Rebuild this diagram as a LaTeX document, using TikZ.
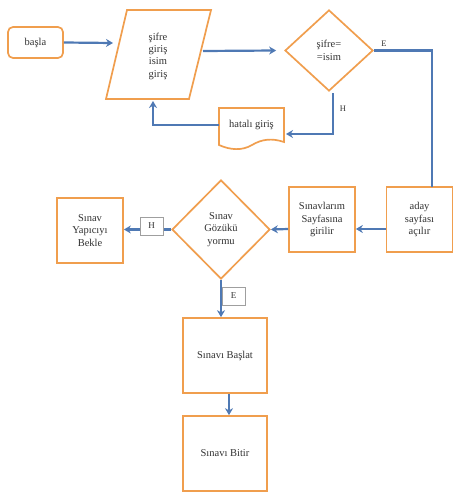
\documentclass[tikz,border=0pt]{standalone}
\usepackage{fontspec}
\setmainfont{Liberation Serif}
\usetikzlibrary{shapes.geometric,arrows.meta}
\definecolor{orng}{RGB}{240,158,78}
\definecolor{blu}{RGB}{79,121,180}
\definecolor{txt}{RGB}{50,50,50}
\begin{document}
\begin{tikzpicture}[x=1pt,y=-1pt,
  shp/.style={draw=orng,line width=1.7pt,fill=white},
  box/.style={shp,align=center,text=txt,font=\fontsize{10.5}{12.3}\selectfont,inner sep=0pt},
  dia/.style={box,diamond},
  conn/.style={draw=blu,line width=2.2pt,-{Stealth[length=7pt,width=8pt]}},
  plain/.style={draw=blu,line width=2.2pt},
  lbl/.style={text=txt,font=\fontsize{8.5}{10}\selectfont,inner sep=0pt},
  lblbox/.style={draw=gray!75,fill=white,line width=0.8pt,minimum width=23pt,minimum height=18pt,inner sep=0pt,text=txt,font=\fontsize{9}{10}\selectfont}]
\useasboundingbox (0,0) rectangle (462,495);
% top row
\node[box,rounded corners=5pt,minimum width=55pt,minimum height=31pt] (basla) at (35.5,42.5) {başla};
\draw[shp] (127,10) -- (211,10) -- (189,99) -- (106,99) -- cycle;
\node[box,draw=none,fill=none] (sifre) at (158,56) {şifre\\giriş\\isim\\giriş};
\coordinate (pin) at (113,43);
\coordinate (pout) at (203,51);
\coordinate (pbot) at (153,101);
\node[dia,minimum width=88pt,minimum height=81pt] (d1) at (329,50.5) {şifre=\\=isim};
\draw[shp] (219,108) -- (284,108) -- (284,142)
  .. controls (272,138) and (262,139) .. (252,145)
  .. controls (242,151) and (230,150) .. (219,145) -- cycle;
\node[box,draw=none,fill=none] (hata) at (251.5,125) {hatalı giriş};
\coordinate (hw) at (219,125);
\coordinate (he) at (286,134);
\coordinate (hs) at (333,93);
% second row
\node[box,minimum width=66pt,minimum height=65pt] (yap) at (90,230.5) {Sınav\\Yapıcıyı\\Bekle};
\node[dia,minimum width=98pt,minimum height=99pt] (d2) at (221,229.5) {Sınav\\Gözükü\\yormu};
\node[box,minimum width=66pt,minimum height=65pt] (sin) at (322,219.5) {Sınavlarım\\Sayfasına\\girilir};
\node[box,minimum width=66pt,minimum height=65pt] (aday) at (419.5,219.5) {aday\\sayfası\\açılır};
\coordinate (c1) at (432,187);
\node[box,minimum width=84pt,minimum height=75pt] (baslat) at (225,355.5) {Sınavı Başlat};
\node[box,minimum width=84pt,minimum height=75pt] (bitir) at (225,453.5) {Sınavı Bitir};
% connectors
\draw[conn] (basla.east) -- (pin);
\draw[conn] (pout) -- ([xshift=-8pt]d1.west);
\draw[plain] (d1.east) -| (c1);
\node[lbl] (e1) at (384,44) {E};
\draw[conn] (hs) |- (he);
\node[lbl] (h1) at (343,109) {H};
\draw[conn] (hw) -| (pbot);
\draw[conn] (aday.west |- 0,229) -- (sin.east |- 0,229);
\draw[conn] (sin.west |- 0,229) -- (d2.east);
\draw[conn] (d2.west) -- (yap.east |- d2.west);
\node[lblbox] (h2) at (151.5,226) {H};
\draw[conn] (d2.south) -- (d2.south |- baslat.north);
\node[lblbox] (e2) at (233.5,296) {E};
\draw[conn] ([xshift=4pt]baslat.south) -- ([xshift=4pt]bitir.north);
\end{tikzpicture}
\end{document}
